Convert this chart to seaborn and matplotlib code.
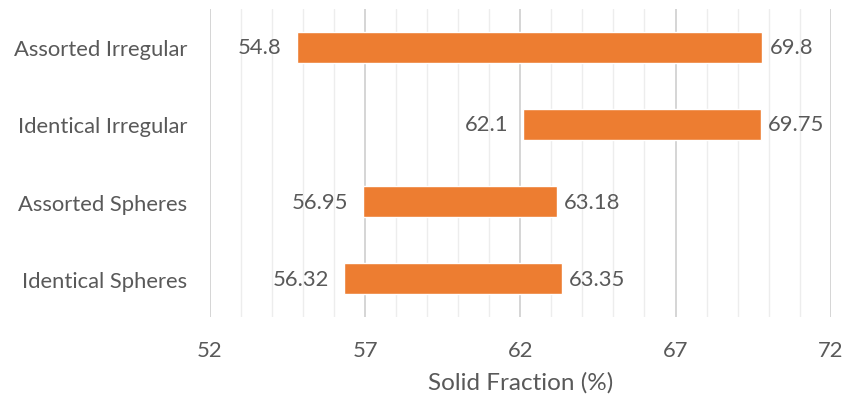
import matplotlib
matplotlib.use("Agg")
import matplotlib.pyplot as plt
from matplotlib.ticker import MultipleLocator
import seaborn as sns
import pandas as pd

categories = ["Assorted Irregular", "Identical Irregular", "Assorted Spheres", "Identical Spheres"]
low_values = [54.8, 62.1, 56.95, 56.32]
high_values = [69.8, 69.75, 63.18, 63.35]
low_labels = ["54.8", "62.1", "56.95", "56.32"]
high_labels = ["69.8", "69.75", "63.18", "63.35"]
x_ticks = [52, 57, 62, 67, 72]

df = pd.DataFrame({
    "category": categories,
    "low": low_values,
    "high": high_values,
})
df["span"] = df["high"] - df["low"]

sns.set_theme(style="white")
plt.rcParams["font.family"] = ["Lato", "DejaVu Sans"]
text_color = "#595959"
fs = 15.8

fig = plt.figure(figsize=(8.46, 4.02), dpi=100)
ax = fig.add_axes([0.248, 0.208, 0.734, 0.768])

ax.set_xlim(52, 72)
ax.xaxis.set_major_locator(MultipleLocator(5))
ax.xaxis.set_minor_locator(MultipleLocator(1))
ax.grid(which="major", axis="x", color="#d5d5d5", lw=1.4, zorder=0)
ax.grid(which="minor", axis="x", color="#ededed", lw=1.0, zorder=0)
ax.set_axisbelow(True)

sns.barplot(data=df, x="span", y="category", left=df["low"].values,
            color="#ED7D31", saturation=1, width=0.4, ax=ax, zorder=3)

for i, (lo, hi, lt, ht) in enumerate(zip(low_values, high_values, low_labels, high_labels)):
    ax.annotate(lt, (lo, i), xytext=(-11, 0), textcoords="offset points",
                ha="right", va="center", fontsize=fs, color=text_color)
    ax.annotate(ht, (hi, i), xytext=(5, 0), textcoords="offset points",
                ha="left", va="center", fontsize=fs, color=text_color)

ax.set_xticks(x_ticks)
ax.set_xticklabels([str(t) for t in x_ticks])
ax.set_xlim(52, 72)
ax.set_ylim(3.5, -0.5)
for s in ax.spines.values():
    s.set_visible(False)
ax.tick_params(axis="x", which="both", length=0, pad=16, labelsize=fs, labelcolor=text_color)
ax.tick_params(axis="y", length=0, pad=16, labelsize=fs, labelcolor=text_color)
ax.set_ylabel("")
ax.set_xlabel("Solid Fraction (%)", fontsize=17.5, color=text_color, labelpad=8)

fig.savefig("out.png", dpi=100)
